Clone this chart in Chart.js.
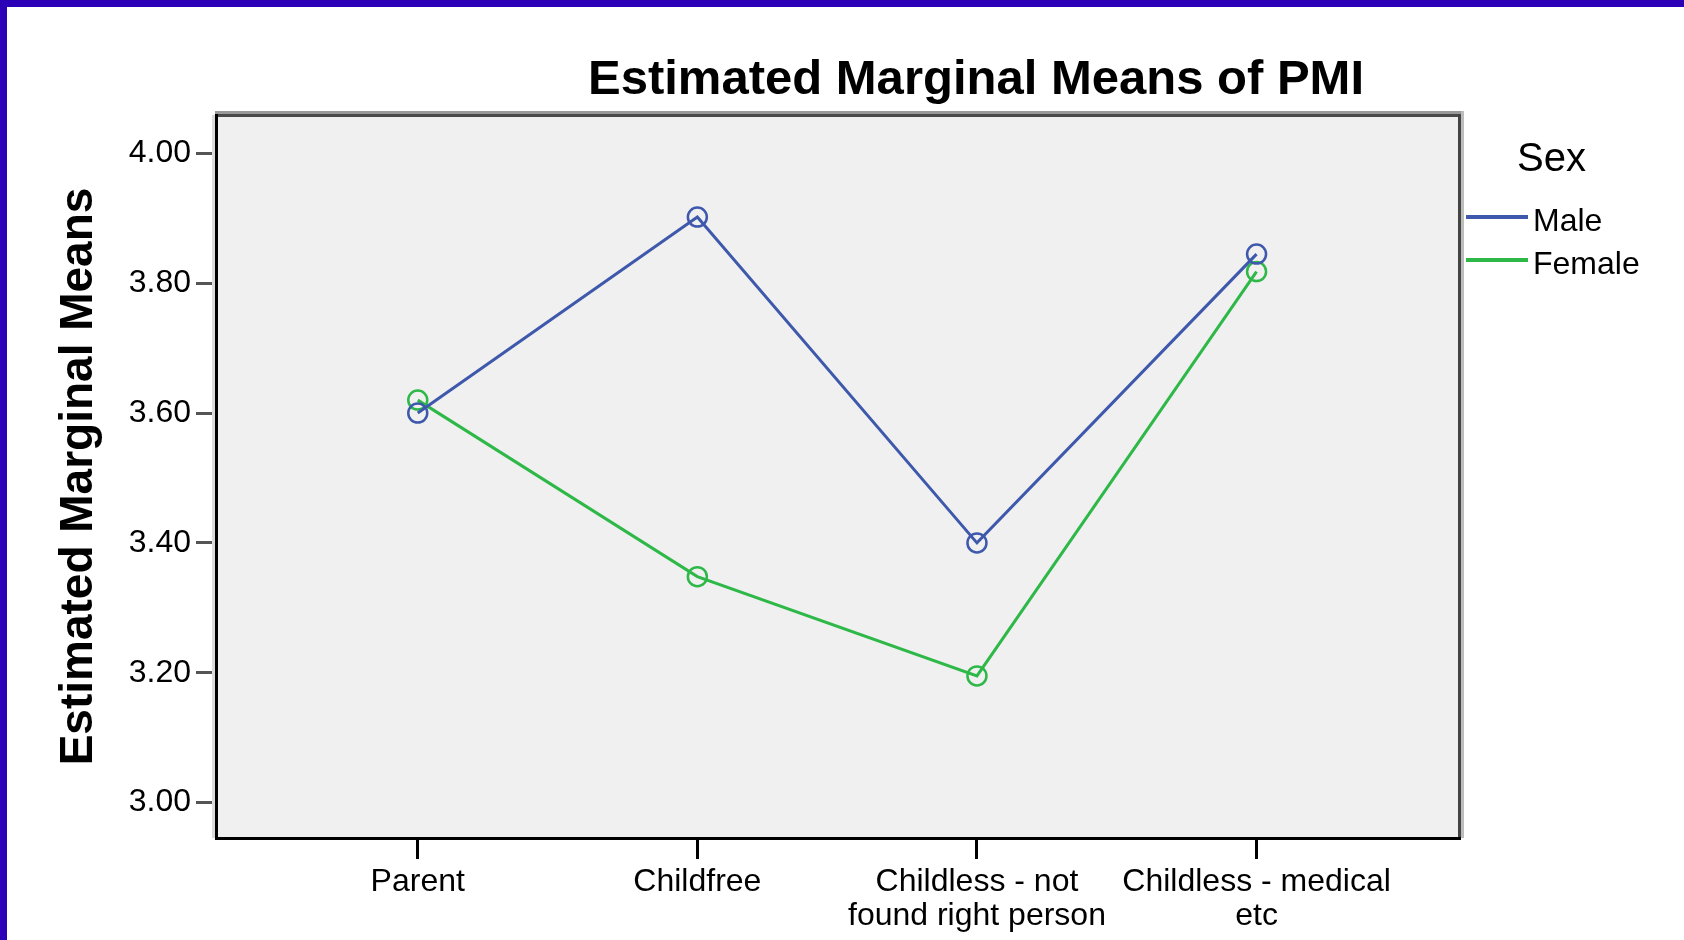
<!DOCTYPE html>
<html>
<head>
<meta charset="utf-8">
<script src="https://cdn.jsdelivr.net/npm/chart.js@4.4.1/dist/chart.umd.min.js"></script>
<style>
  html, body { margin: 0; padding: 0; background: #fff; }
  canvas { display: block; }
</style>
</head>
<body>
<canvas id="myChart" width="1684" height="940"></canvas>
<script>
// PMI estimated marginal means, by group and sex
const groupLabels = ["Parent", "Childfree", ["Childless - not", "found right person"], ["Childless - medical", "etc"]];
const maleMeans = [3.60, 3.902, 3.40, 3.845];
const femaleMeans = [3.62, 3.348, 3.195, 3.818];
const yTickValues = [3.00, 3.20, 3.40, 3.60, 3.80, 4.00];
const seriesNames = ["Male", "Female"];
const seriesColors = ["#3E58AC", "#2EB848"];

const sans = "'Liberation Sans', Arial, sans-serif";

const area = { left: 217, right: 1459, top: 115, bottom: 838 };

function toPoints(values) {
    return values.map((v, i) => ({ x: i, y: v }));
}

const decor = {
    id: "decor",
    beforeDraw(chart) {
        const ctx = chart.ctx;
        const a = chart.chartArea;
        ctx.save();
        ctx.fillStyle = "#ffffff";
        ctx.fillRect(0, 0, chart.width, chart.height);
        ctx.fillStyle = "#f0f0f0";
        ctx.fillRect(a.left, a.top, a.right - a.left, a.bottom - a.top);
        ctx.restore();
    },
    beforeDatasetsDraw(chart) {
        const ctx = chart.ctx;
        const a = chart.chartArea;
        const w = a.right - a.left, h = a.bottom - a.top;
        ctx.save();
        // frame: light outer edges top/right, black left/bottom
        ctx.fillStyle = "#9a9a9a";
        ctx.fillRect(a.left - 2, a.top - 4, w + 4, 3);
        ctx.fillStyle = "#bdbdbd";
        ctx.fillRect(a.right + 2, a.top - 4, 3, h + 4);
        ctx.fillStyle = "#dcdcdc";
        ctx.fillRect(a.left - 5, a.top, 3, h);
        ctx.fillStyle = "#4a4a4a";
        ctx.fillRect(a.left, a.top - 1, w, 3);
        ctx.fillStyle = "#444444";
        ctx.fillRect(a.right - 1, a.top - 1, 3, h + 1);
        ctx.fillStyle = "#000000";
        ctx.fillRect(a.left - 2, a.top - 1, 3, h + 2);
        ctx.fillRect(a.left - 2, a.bottom - 1, w + 4, 3);
        ctx.restore();
    },
    afterDraw(chart) {
        const ctx = chart.ctx;
        ctx.save();
        // outer blue frame
        ctx.fillStyle = "#2b00b7";
        ctx.fillRect(0, 0, chart.width, 7);
        ctx.fillRect(0, 0, 7, chart.height);

        // chart title
        ctx.fillStyle = "#000";
        ctx.font = "bold 49px " + sans;
        ctx.textAlign = "center";
        ctx.textBaseline = "alphabetic";
        ctx.fillText("Estimated Marginal Means of PMI", 976, 94);

        // legend
        ctx.font = "40px " + sans;
        ctx.textAlign = "left";
        ctx.fillText("Sex", 1517, 171);
        ctx.font = "32px " + sans;
        chart.data.datasets.forEach((ds, i) => {
            const y = 217 + i * 43;
            ctx.strokeStyle = ds.borderColor;
            ctx.lineWidth = 4;
            ctx.beginPath();
            ctx.moveTo(1466, y);
            ctx.lineTo(1528, y);
            ctx.stroke();
            ctx.fillStyle = "#000";
            ctx.fillText(ds.label, 1533, y + 14);
        });
        ctx.restore();
    }
};

new Chart("myChart", {
    type: "line",
    data: {
        datasets: seriesNames.map((name, i) => ({
            label: name,
            data: toPoints(i === 0 ? maleMeans : femaleMeans),
            borderColor: seriesColors[i],
            backgroundColor: "rgba(0,0,0,0)",
            borderWidth: 3,
            tension: 0,
            fill: false,
            pointStyle: "circle",
            pointRadius: 9.5,
            pointBorderWidth: 2.5,
            pointBorderColor: seriesColors[i],
            pointBackgroundColor: "rgba(0,0,0,0)"
        }))
    },
    options: {
        responsive: false,
        animation: false,
        devicePixelRatio: 1,
        layout: { padding: { top: area.top, right: 1684 - area.right, left: 0, bottom: 0 } },
        plugins: {
            legend: { display: false },
            title: { display: false },
            tooltip: { enabled: false }
        },
        scales: {
            x: {
                type: "linear",
                min: -0.718,
                max: 3.724,
                afterFit(scale) { scale.height = 940 - area.bottom; },
                afterBuildTicks(scale) {
                    scale.ticks = groupLabels.map((_, i) => ({ value: i }));
                },
                border: { display: false },
                grid: {
                    drawOnChartArea: false,
                    drawTicks: true,
                    tickLength: 21,
                    tickWidth: 3,
                    tickColor: "#000"
                },
                ticks: {
                    autoSkip: false,
                    maxRotation: 0,
                    minRotation: 0,
                    padding: 6,
                    color: "#000",
                    font: { family: sans, size: 32, lineHeight: 1.06 },
                    callback: (v) => groupLabels[v]
                }
            },
            y: {
                type: "linear",
                min: 2.9453,
                max: 4.0593,
                afterFit(scale) { scale.width = area.left; },
                afterBuildTicks(scale) {
                    scale.ticks = yTickValues.map(v => ({ value: v }));
                },
                border: { display: false },
                grid: {
                    drawOnChartArea: false,
                    drawTicks: true,
                    tickLength: 21,
                    tickWidth: 3,
                    tickColor: "#555"
                },
                ticks: {
                    padding: 5,
                    color: "#000",
                    font: { family: sans, size: 32 },
                    callback: (v) => Number(v).toFixed(2)
                },
                title: {
                    display: true,
                    text: "Estimated Marginal Means",
                    color: "#000",
                    font: { family: sans, size: 46, weight: "bold", lineHeight: 1.0 },
                    padding: { top: 56, bottom: 0 }
                }
            }
        }
    },
    plugins: [decor]
});
</script>
</body>
</html>
